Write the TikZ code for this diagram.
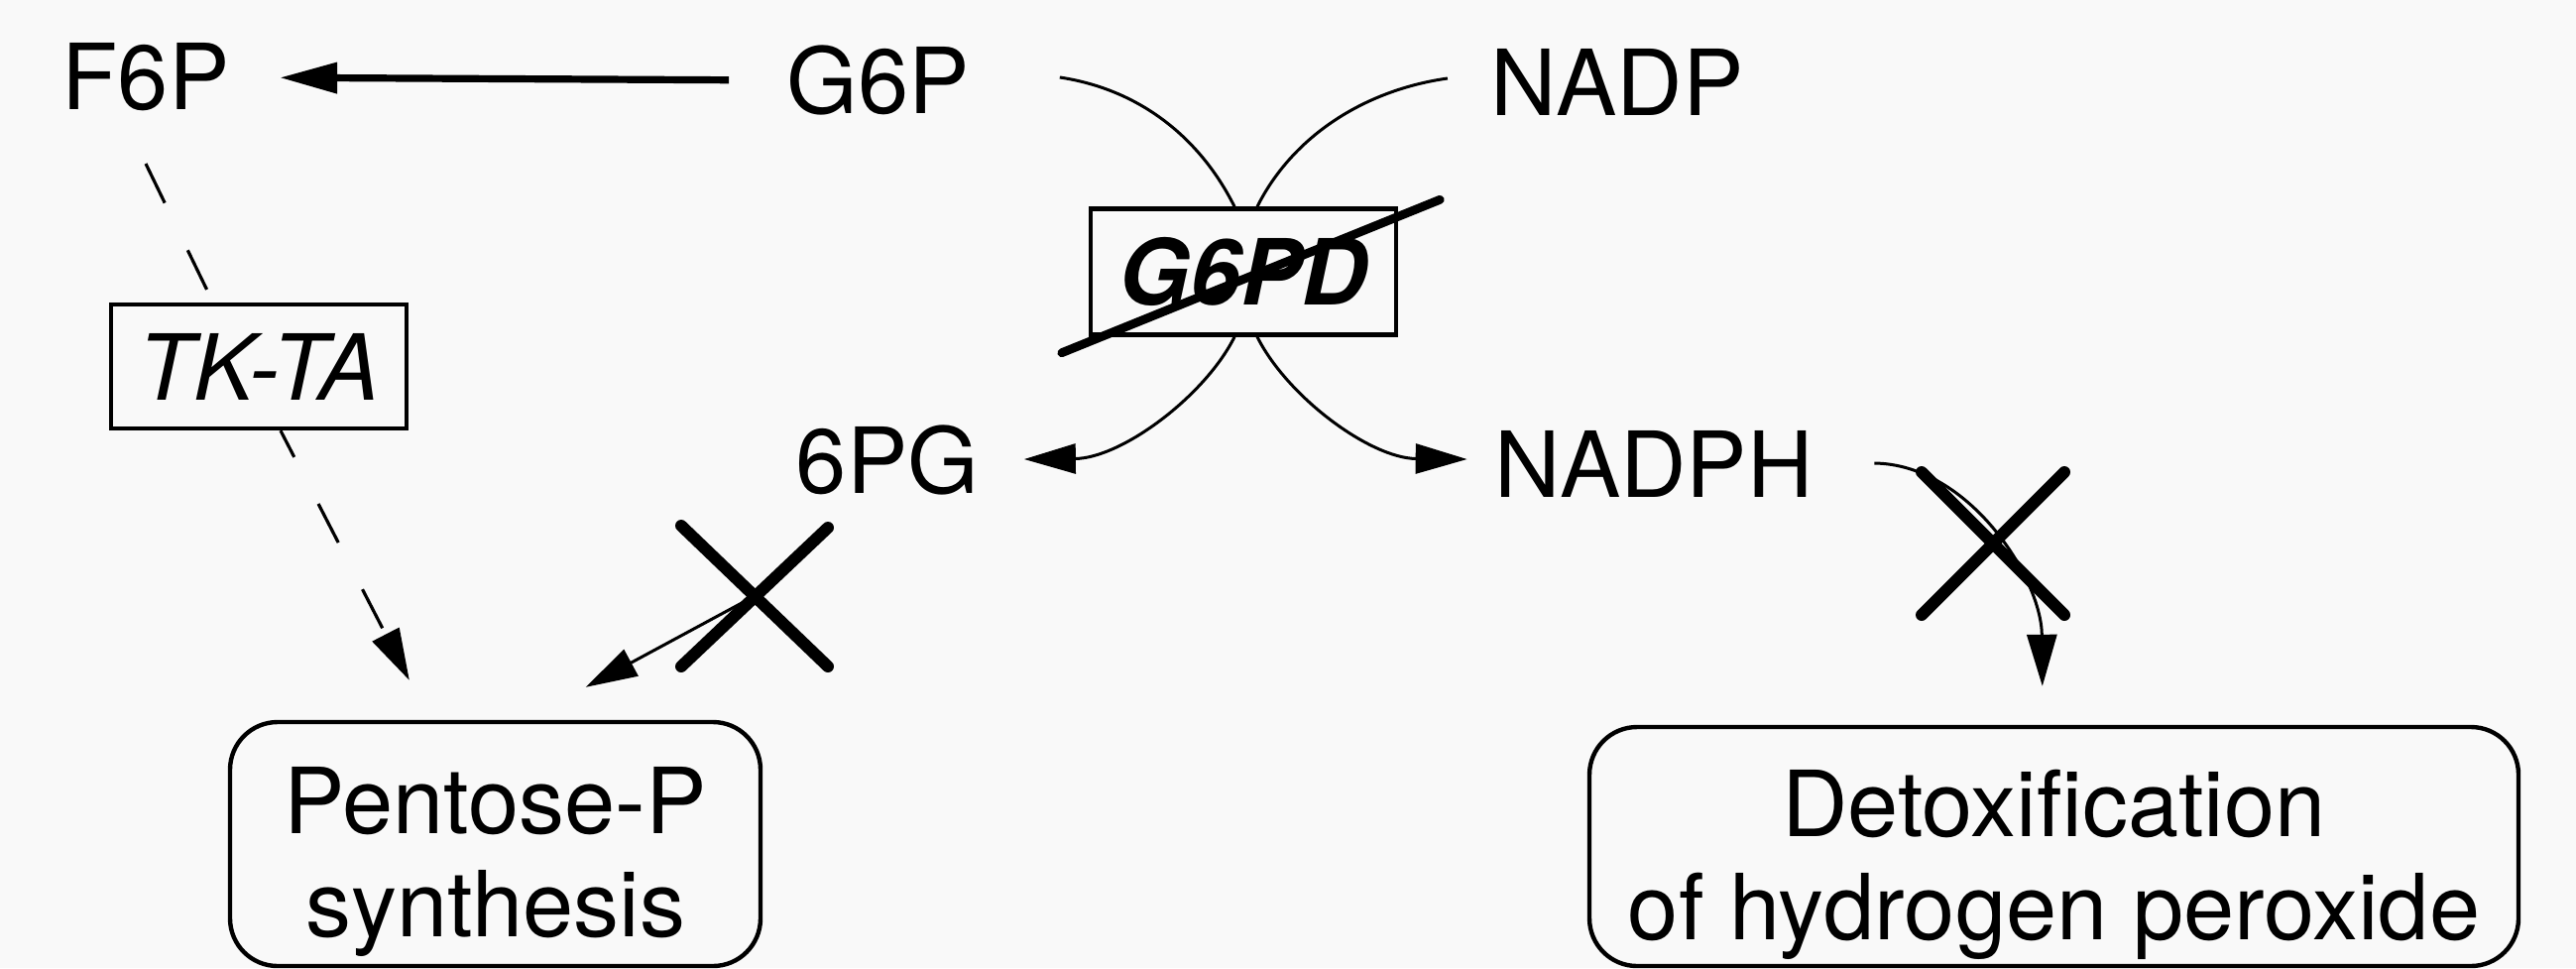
\documentclass[tikz,border=0pt]{standalone}
\usepackage{fontspec}
\setmainfont{TeX Gyre Heros}
\usetikzlibrary{arrows.meta,calc}
\definecolor{paper}{gray}{0.975}
\begin{document}
\begin{tikzpicture}[x=0.25pt,y=-0.25pt,
  lbl/.style={inner sep=0pt, font=\fontsize{23}{26}\selectfont},
  enz/.style={draw, line width=1.1pt, inner sep=0pt, font=\fontsize{23}{26}\selectfont\itshape},
  goal/.style={draw, line width=1.1pt, rounded corners=12pt, inner sep=0pt, align=center, font=\fontsize{23}{26}\selectfont},
  conn/.style={line width=0.75pt},
  thinarr/.style={line width=0.75pt, -{Triangle[length=13pt,width=7.5pt]}},
  dashline/.style={line width=0.8pt, dash pattern=on 11pt off 13.25pt},
  block/.style={line width=3pt, line cap=round},
]
\useasboundingbox (0,0) rectangle (2598,976);
\fill[paper] (0,0) rectangle (2598,976);

% metabolites
\node[lbl] (F6P) at (147,78) {F6P};
\node[lbl] (G6P) at (886,81) {G6P};
\node[lbl] (NADP) at (1631,83) {NADP};
\node[lbl] (pg6) at (895,464) {6PG};
\node[lbl] (NADPH) at (1668,468) {NADPH};

% enzymes
\node[enz, minimum width=77pt, minimum height=31.75pt] (G6PD) at (1254,274) {\bfseries G6PD\hspace{7pt}};
\node[enz, minimum width=74.5pt, minimum height=31.25pt] (TKTA) at (261,369.5) {TK-TA};

% end points
\node[goal, minimum width=133.75pt, minimum height=61.5pt] (Pent) at (499.5,851) {\rule{0pt}{26pt}Pentose-P\\synthesis};
\node[goal, minimum width=234.25pt, minimum height=60.25pt] (Det) at (2071.5,853.5) {\rule{0pt}{26pt}Detoxification\\of hydrogen peroxide};

% G6P -> F6P
\draw[line width=1.8pt, -{Triangle[length=14.5pt,width=7.5pt]}, shorten <=14.5pt, shorten >=12.5pt] (G6P.west) -- (F6P.east);

% dashed TK-TA route
\draw[dashline] ($(F6P.south)+(0,52)$) -- ($(TKTA.north west)+(105,0)$);
\draw[dashline, dash phase=3.5pt, -{Triangle[length=13pt,width=7.5pt]}] ($(TKTA.south)+(22,0)$) -- ($(Pent.north west)+(183,-40)$);

% G6PD reaction
\draw[conn] ($(G6P.east)+(90,-3)$) .. controls +(80,12) and +(-35,-70) .. ($(G6PD.north)+(-9,0)$);
\draw[conn] ($(NADP.west)+(-43,-4)$) .. controls +(-85,12) and +(35,-70) .. ($(G6PD.north)+(14,0)$);
\draw[thinarr] ($(G6PD.south)+(-9,0)$) .. controls +(-30,60) and +(98,-1) .. ($(pg6.east)+(45,-1)$);
\draw[thinarr] ($(G6PD.south)+(14,0)$) .. controls +(30,60) and +(-98,-1) .. ($(NADPH.west)+(-27,-5)$);
\draw[line width=2.2pt, line cap=round] ($(G6PD.south west)+(-27,16)$) -- ($(G6PD.north east)+(42,-7)$);

% 6PG -> Pentose-P (blocked)
\coordinate (x1) at (761,601);
\draw[thinarr] ($(pg6.south west)+(25,42)$) -- (x1) -- ($(Pent.north west)+(361,-33)$);
\draw[block] ($(x1)+(-74,-71)$) -- ($(x1)+(74,71)$);
\draw[block] ($(x1)+(74,-69)$) -- ($(x1)+(-74,71)$);

% NADPH -> detoxification (blocked)
\coordinate (x2) at (2010,548);
\draw[thinarr] ($(NADPH.east)+(61,-1)$) .. controls +(95,1) and +(-1,-109) .. ($(Det.north west)+(459,-39)$);
\draw[block] ($(x2)+(-72,-72)$) -- ($(x2)+(72,72)$);
\draw[block] ($(x2)+(72,-72)$) -- ($(x2)+(-72,72)$);
\end{tikzpicture}
\end{document}
